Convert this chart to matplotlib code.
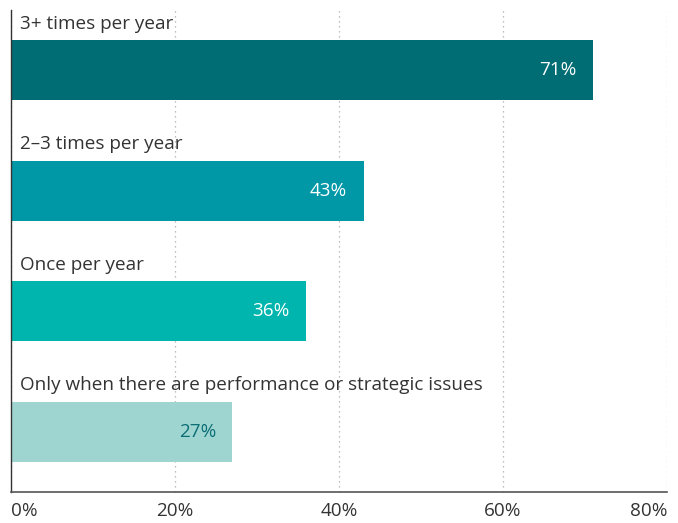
import matplotlib.pyplot as plt

plt.rcParams["font.family"] = ["Open Sans", "DejaVu Sans"]

categories = [
    "3+ times per year",
    "2\u20133 times per year",
    "Once per year",
    "Only when there are performance or strategic issues",
]
values = [71, 43, 36, 27]
colors = ["#006d75", "#0097a7", "#00b5ad", "#9fd5d1"]
value_colors = ["white", "white", "white", "#0b6e75"]
ticks = [0, 20, 40, 60, 80]
tick_labels = ["0%", "20%", "40%", "60%", "80%"]


def main():
    fig = plt.figure(figsize=(6.78, 5.23), dpi=100)
    ax = fig.add_axes([11 / 678, 1 - 492 / 523, 656 / 678, 482 / 523])

    ypos = list(range(len(categories)))
    ax.barh(ypos, values, height=0.5, color=colors, zorder=2)

    fs = 13.6
    for y, cat, v, vc in zip(ypos, categories, values, value_colors):
        ax.text(1.1, y - 0.31, cat, ha="left", va="bottom",
                fontsize=fs, color="#333333")
        ax.text(v - 2.0, y, f"{v}%", ha="right", va="center",
                fontsize=fs, color=vc, zorder=3)

    ax.set_xlim(0, 80)
    ax.set_ylim(3.5, -0.5)
    ax.set_yticks([])
    ax.set_xticks(ticks)
    ax.set_xticklabels(tick_labels, fontsize=fs, color="#333333")
    labs = ax.get_xticklabels()
    labs[0].set_ha("left")
    labs[-1].set_ha("right")
    ax.tick_params(axis="x", length=0, pad=7)

    ax.grid(axis="x", linestyle=(0, (1, 3)), color="#aaaaaa", linewidth=0.9, zorder=0)
    for s in ["top", "right"]:
        ax.spines[s].set_visible(False)
    ax.spines["left"].set_color("#333333")
    ax.spines["left"].set_linewidth(1.0)
    ax.spines["bottom"].set_color("#555555")
    ax.spines["bottom"].set_linewidth(1.2)

    fig.savefig("out.png", dpi=100)


if __name__ == "__main__":
    main()
